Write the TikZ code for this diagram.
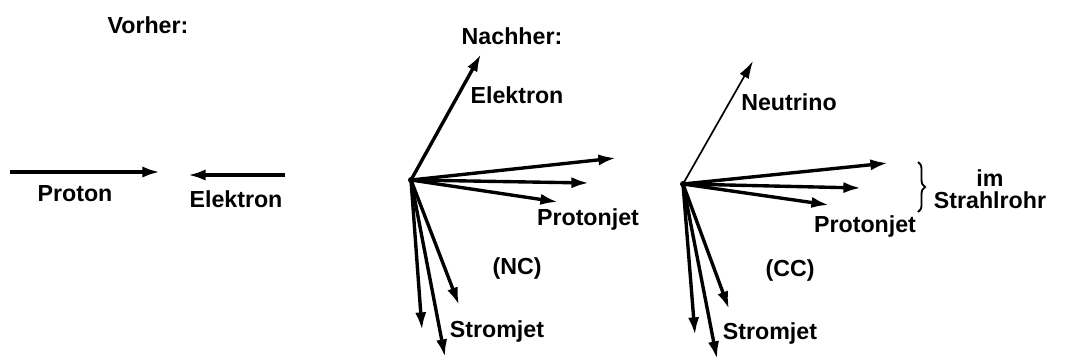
\documentclass[tikz,border=0pt]{standalone}
\usepackage{fontspec}
\setmainfont{Liberation Sans}
\usetikzlibrary{arrows.meta,decorations.pathreplacing}

\begin{document}
\begin{tikzpicture}[
  x=0.025cm, y=-0.025cm,
  font=\fontsize{16.5}{16}\selectfont\bfseries,
  vec/.style={line width=2.4pt, -{Latex[length=4.4mm,width=2.8mm]}},
  thin vec/.style={line width=1.2pt, -{Latex[length=4.4mm,width=2.6mm]}},
  lbl/.style={inner sep=0pt, align=center}
]
\useasboundingbox (0,0) rectangle (1065,358);
% before the collision
\node[lbl] (vorher) at (148,25) {Vorher:};
\coordinate (p0) at (10,172);
\coordinate (p1) at (160,172);
\coordinate (e0) at (285,175);
\coordinate (e1) at (188,175);
\draw[vec] (p0) -- (p1);
\draw[vec] (e0) -- (e1);
\node[lbl] (proton) at (75,194) {Proton};
\node[lbl] (elektron) at (236,199) {Elektron};
% after: neutral current
\node[lbl] (nachher) at (512,36) {Nachher:};
\coordinate (nc) at (411,180);
\coordinate (nc-e) at (481,54);
\coordinate (nc-p1) at (616,158);
\coordinate (nc-p2) at (589,183);
\coordinate (nc-p3) at (558,202);
\coordinate (nc-s1) at (422,330);
\coordinate (nc-s2) at (445,357);
\coordinate (nc-s3) at (459,305);
\foreach \t in {e,p1,p2,p3,s1,s2,s3}
  \draw[vec] (nc) -- (nc-\t);
\fill (nc) circle (3);
\node[lbl] (nc-elabel) at (517,95) {Elektron};
\node[lbl] (nc-plabel) at (588,219) {Protonjet};
\node[lbl] (nc-tag) at (517,268) {(NC)};
\node[lbl] (nc-slabel) at (497,331) {Stromjet};
% after: charged current
\coordinate (cc) at (683,184);
\coordinate (cc-n) at (753,61);
\coordinate (cc-p1) at (888,163);
\coordinate (cc-p2) at (861,188);
\coordinate (cc-p3) at (829,205);
\coordinate (cc-s1) at (695,335);
\coordinate (cc-s2) at (717,359);
\coordinate (cc-s3) at (729,309);
\draw[thin vec] (cc) -- (cc-n);
\foreach \t in {p1,p2,p3,s1,s2,s3}
  \draw[vec] (cc) -- (cc-\t);
\fill (cc) circle (3);
\node[lbl] (cc-nlabel) at (789,102) {Neutrino};
\node[lbl] (cc-plabel) at (865,226) {Protonjet};
\node[lbl] (cc-tag) at (790,270) {(CC)};
\node[lbl] (cc-slabel) at (770,333) {Stromjet};
% beam pipe brace
\coordinate (br-top) at (918,162);
\coordinate (br-bot) at (918,212);
\draw[line width=1.3pt, decorate, decoration={brace,amplitude=5pt}] (br-top) -- (br-bot);
\node[lbl] (rohr) at (990,189) {im\\Strahlrohr};
\end{tikzpicture}
\end{document}
